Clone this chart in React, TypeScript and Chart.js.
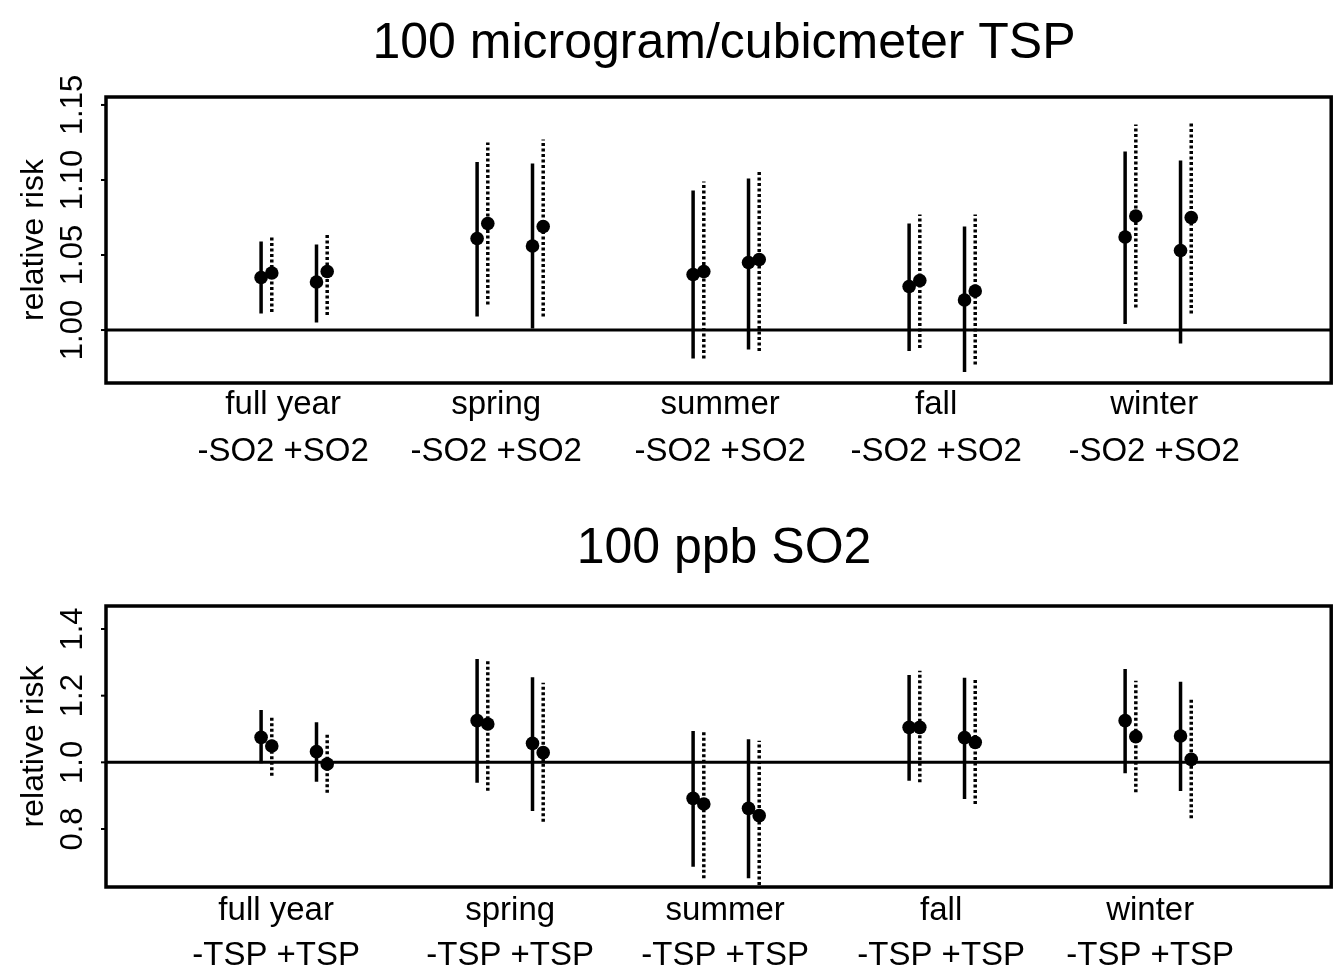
import React, { useEffect, useRef } from "react";
import { Chart, registerables } from "chart.js";

Chart.register(...registerables);

// Seasons along the x axis and the adjustment labels under them
const seasons = ["full year", "spring", "summer", "fall", "winter"];
const tspAdjustLabel = "-SO2 +SO2";
const so2AdjustLabel = "-TSP +TSP";

// Tick values on the relative-risk axes
const tspTicks = [1.0, 1.05, 1.1, 1.15];
const so2Ticks = [0.8, 1.0, 1.2, 1.4];

// 100 microgram/cubicmeter TSP — relative risk and 95% limits, one value per season
const tspNoSo2SolidEst = [1.035, 1.061, 1.037, 1.029, 1.062];
const tspNoSo2SolidLo = [1.011, 1.009, 0.981, 0.986, 1.004];
const tspNoSo2SolidHi = [1.059, 1.112, 1.093, 1.071, 1.119];
const tspNoSo2DottedEst = [1.038, 1.071, 1.039, 1.033, 1.076];
const tspNoSo2DottedLo = [1.012, 1.017, 0.981, 0.988, 1.015];
const tspNoSo2DottedHi = [1.063, 1.125, 1.099, 1.077, 1.137];
const tspSo2SolidEst = [1.032, 1.056, 1.045, 1.02, 1.053];
const tspSo2SolidLo = [1.005, 1.001, 0.987, 0.972, 0.991];
const tspSo2SolidHi = [1.057, 1.111, 1.101, 1.069, 1.113];
const tspSo2DottedEst = [1.039, 1.069, 1.047, 1.026, 1.075];
const tspSo2DottedLo = [1.01, 1.009, 0.986, 0.977, 1.011];
const tspSo2DottedHi = [1.065, 1.127, 1.107, 1.077, 1.139];

// 100 ppb SO2 — relative risk and 95% limits, one value per season
const so2NoTspSolidEst = [1.075, 1.125, 0.892, 1.105, 1.125];
const so2NoTspSolidLo = [0.997, 0.939, 0.687, 0.945, 0.967];
const so2NoTspSolidHi = [1.157, 1.31, 1.094, 1.262, 1.28];
const so2NoTspDottedEst = [1.049, 1.115, 0.875, 1.105, 1.077];
const so2NoTspDottedLo = [0.96, 0.915, 0.652, 0.94, 0.91];
const so2NoTspDottedHi = [1.135, 1.31, 1.092, 1.275, 1.245];
const so2TspSolidEst = [1.032, 1.057, 0.862, 1.074, 1.079];
const so2TspSolidLo = [0.942, 0.854, 0.652, 0.89, 0.914];
const so2TspSolidHi = [1.12, 1.255, 1.069, 1.254, 1.242];
const so2TspDottedEst = [0.995, 1.029, 0.84, 1.06, 1.009];
const so2TspDottedLo = [0.909, 0.822, 0.632, 0.875, 0.832];
const so2TspDottedHi = [1.089, 1.239, 1.065, 1.25, 1.19];

const FONT = '"Liberation Sans", Arial, Helvetica, sans-serif';
const W = 1338;
const H = 487;

type Series = { est: number[]; lo: number[]; hi: number[]; dotted: boolean; offset: number };

type PanelSpec = {
  title: string;
  adjustLabel: string;
  ticks: number[];
  tickDigits: number;
  yMin: number;
  yMax: number;
  padding: { left: number; right: number; top: number; bottom: number };
  titleBaseline: number;
  row1Baseline: number;
  row2Baseline: number;
  labelShift: number[];
  series: Series[];
};

const X_MIN = -0.871;
const X_MAX = 4.801;

function buildDatasets(series: Series[]) {
  const ds: any[] = [];
  // reference line at relative risk 1
  ds.push({
    type: "line",
    data: [
      { x: X_MIN, y: 1 },
      { x: X_MAX, y: 1 },
    ],
    borderColor: "#000",
    borderWidth: 3,
    pointRadius: 0,
    clip: false,
  });
  // confidence intervals: solid or dotted vertical segments
  series.forEach((s) => {
    s.est.forEach((_, i) => {
      ds.push({
        type: "line",
        data: [
          { x: i + s.offset, y: s.lo[i] },
          { x: i + s.offset, y: s.hi[i] },
        ],
        borderColor: "#000",
        borderWidth: s.dotted ? 3.5 : 3.5,
        borderDash: s.dotted ? [3, 2.5] : [],
        borderCapStyle: "butt",
        pointRadius: 0,
      });
    });
  });
  // point estimates
  series.forEach((s) => {
    ds.push({
      type: "scatter",
      data: s.est.map((v, i) => ({ x: i + s.offset, y: v })),
      backgroundColor: "#000",
      borderColor: "#000",
      borderWidth: 0,
      pointRadius: 6.8,
    });
  });
  return ds;
}

const panelDecor = {
  id: "panelDecor",
  afterDraw(chart: any, _args: any, opts: any) {
    const spec: PanelSpec = opts.spec;
    if (!spec) return;
    const { ctx, chartArea } = chart;
    const xs = chart.scales.x;
    const ys = chart.scales.y;
    ctx.save();
    ctx.fillStyle = "#000";
    ctx.strokeStyle = "#000";

    // plot frame
    ctx.lineWidth = 3.5;
    ctx.strokeRect(chartArea.left, chartArea.top, chartArea.right - chartArea.left, chartArea.bottom - chartArea.top);

    // y ticks and their rotated labels
    ctx.lineWidth = 2;
    ctx.font = `31px ${FONT}`;
    ctx.textAlign = "center";
    ctx.textBaseline = "alphabetic";
    spec.ticks.forEach((t) => {
      const y = ys.getPixelForValue(t);
      ctx.beginPath();
      ctx.moveTo(chartArea.left - 5, y);
      ctx.lineTo(chartArea.left, y);
      ctx.stroke();
      ctx.save();
      ctx.translate(82, y);
      ctx.rotate(-Math.PI / 2);
      ctx.fillText(t.toFixed(spec.tickDigits), 0, 0);
      ctx.restore();
    });

    // y axis title
    ctx.save();
    ctx.font = `32px ${FONT}`;
    ctx.translate(43, (chartArea.top + chartArea.bottom) / 2);
    ctx.rotate(-Math.PI / 2);
    ctx.fillText("relative risk", 0, 0);
    ctx.restore();

    // panel title
    ctx.font = `50px ${FONT}`;
    ctx.fillText(spec.title, 724, spec.titleBaseline);

    // season names and adjustment labels
    ctx.font = `33px ${FONT}`;
    seasons.forEach((name, i) => {
      const x = xs.getPixelForValue(i) + spec.labelShift[i];
      ctx.fillText(name, x, spec.row1Baseline);
      ctx.fillText(spec.adjustLabel, x, spec.row2Baseline);
    });
    ctx.restore();
  },
};

function Panel({ spec }: { spec: PanelSpec }) {
  const ref = useRef<HTMLCanvasElement | null>(null);
  useEffect(() => {
    if (!ref.current) return;
    const chart = new Chart(ref.current, {
      type: "scatter",
      data: { datasets: buildDatasets(spec.series) },
      options: {
        responsive: false,
        animation: false,
        events: [],
        layout: { padding: spec.padding },
        scales: {
          x: { type: "linear", min: X_MIN, max: X_MAX, display: false },
          y: { type: "linear", min: spec.yMin, max: spec.yMax, display: false },
        },
        plugins: {
          legend: { display: false },
          tooltip: { enabled: false },
          panelDecor: { spec },
        } as any,
      },
      plugins: [panelDecor],
    });
    return () => chart.destroy();
  }, [spec]);
  return <canvas ref={ref} width={W} height={H} style={{ display: "block" }} />;
}

// horizontal placement of the four intervals within each season group
const OFF_SOLID_A = -0.153;
const OFF_DOTTED_A = -0.1035;
const OFF_SOLID_B = 0.1035;
const OFF_DOTTED_B = 0.153;

const tspPanel: PanelSpec = {
  title: "100 microgram/cubicmeter TSP",
  adjustLabel: tspAdjustLabel,
  ticks: tspTicks,
  tickDigits: 2,
  yMin: 0.9647,
  yMax: 1.1553,
  padding: { left: 106, right: 4, top: 97, bottom: H - 383 },
  titleBaseline: 58,
  row1Baseline: 414,
  row2Baseline: 461,
  labelShift: [-11, -14, -6, -6, -4],
  series: [
    { est: tspNoSo2SolidEst, lo: tspNoSo2SolidLo, hi: tspNoSo2SolidHi, dotted: false, offset: OFF_SOLID_A },
    { est: tspNoSo2DottedEst, lo: tspNoSo2DottedLo, hi: tspNoSo2DottedHi, dotted: true, offset: OFF_DOTTED_A },
    { est: tspSo2SolidEst, lo: tspSo2SolidLo, hi: tspSo2SolidHi, dotted: false, offset: OFF_SOLID_B },
    { est: tspSo2DottedEst, lo: tspSo2DottedLo, hi: tspSo2DottedHi, dotted: true, offset: OFF_DOTTED_B },
  ],
};

const so2Panel: PanelSpec = {
  title: "100 ppb SO2",
  adjustLabel: so2AdjustLabel,
  ticks: so2Ticks,
  tickDigits: 1,
  yMin: 0.626,
  yMax: 1.469,
  padding: { left: 106, right: 4, top: 606 - H, bottom: H - (887 - H) },
  titleBaseline: 563 - H,
  row1Baseline: 920 - H,
  row2Baseline: 965 - H,
  labelShift: [-18, 0, -1, -1, -8],
  series: [
    { est: so2NoTspSolidEst, lo: so2NoTspSolidLo, hi: so2NoTspSolidHi, dotted: false, offset: OFF_SOLID_A },
    { est: so2NoTspDottedEst, lo: so2NoTspDottedLo, hi: so2NoTspDottedHi, dotted: true, offset: OFF_DOTTED_A },
    { est: so2TspSolidEst, lo: so2TspSolidLo, hi: so2TspSolidHi, dotted: false, offset: OFF_SOLID_B },
    { est: so2TspDottedEst, lo: so2TspDottedLo, hi: so2TspDottedHi, dotted: true, offset: OFF_DOTTED_B },
  ],
};

export default function App() {
  return (
    <div style={{ position: "absolute", left: 0, top: 0, width: W, height: 2 * H, background: "#fff" }}>
      <Panel spec={tspPanel} />
      <Panel spec={so2Panel} />
    </div>
  );
}
